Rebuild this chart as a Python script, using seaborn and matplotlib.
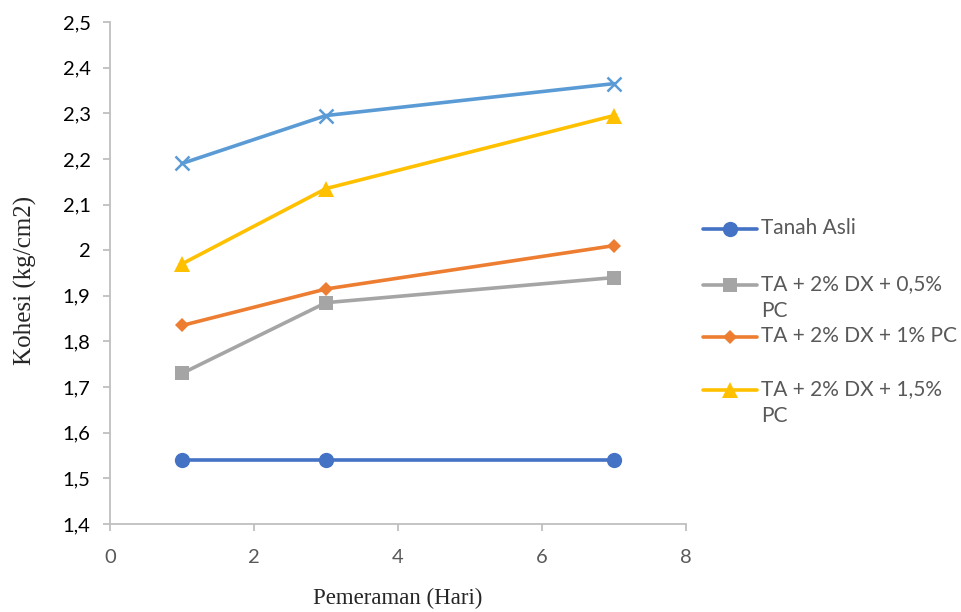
import numpy as np
import pandas as pd
import matplotlib
matplotlib.use("Agg")
import matplotlib.pyplot as plt
import seaborn as sns
from matplotlib.lines import Line2D
from matplotlib.ticker import FuncFormatter

# ── Data ──────────────────────────────────────────────────────────────────────
hari = [1, 3, 7]
tanah_asli = [1.54, 1.54, 1.54]
dx_05pc = [1.73, 1.885, 1.94]
dx_1pc = [1.835, 1.915, 2.01]
dx_15pc = [1.97, 2.135, 2.295]
extra = [2.19, 2.295, 2.365]   # series without legend entry

legend_labels = ["Tanah Asli", "TA + 2% DX + 0,5%\nPC", "TA + 2% DX + 1% PC",
                 "TA + 2% DX + 1,5%\nPC"]

series = [
    (tanah_asli, "#4472C4", "o", 11),
    (dx_05pc, "#A5A5A5", "s", 10),
    (dx_1pc, "#ED7D31", "D", 7),
    (dx_15pc, "#FFC000", "^", 11),
    (extra, "#5B9BD5", "x", 10),
]

sns.set_style("white")
plt.rcParams["font.family"] = ["Lato", "DejaVu Sans"]

W, H = 961, 612
fig = plt.figure(figsize=(W / 100, H / 100), dpi=100)
ax = fig.add_axes([110 / W, 88 / H, 576 / W, 502 / H])

for vals, col, mk, ms in series:
    df = pd.DataFrame({"x": hari, "y": vals})
    sns.lineplot(data=df, x="x", y="y", ax=ax, color=col, marker=mk,
                 markersize=ms, linewidth=2.6, markeredgecolor=col,
                 markeredgewidth=1.8 if mk == "x" else 0, legend=False)

ax.set_xlim(0, 8)
ax.set_ylim(1.4, 2.5)
ax.set_xticks(np.arange(0, 9, 2))
ax.set_yticks(np.round(np.arange(1.4, 2.51, 0.1), 1))
fmt = FuncFormatter(lambda v, p: (f"{v:.1f}".rstrip("0").rstrip(".")).replace(".", ","))
ax.yaxis.set_major_formatter(fmt)
ax.xaxis.set_major_formatter(FuncFormatter(lambda v, p: f"{v:.0f}"))

for s in ["top", "right"]:
    ax.spines[s].set_visible(False)
for s in ["left", "bottom"]:
    ax.spines[s].set_color("#BFBFBF")
    ax.spines[s].set_linewidth(1.3)
ax.tick_params(axis="both", which="major", length=5, width=1.3, color="#BFBFBF",
               direction="out", labelsize=14.5, left=True, bottom=True)
ax.tick_params(axis="y", labelcolor="black", pad=9)
ax.tick_params(axis="x", labelcolor="#595959", pad=13)

ax.set_xlabel("Pemeraman (Hari)", family="Liberation Serif", fontsize=16.5)
ax.set_ylabel("Kohesi (kg/cm2)", family="Liberation Serif", fontsize=18)
ax.xaxis.label.set_va("center")
ax.xaxis.set_label_coords(0.5, (524 - 598) / 502)
ax.yaxis.label.set_va("center")
ax.yaxis.set_label_coords((25 - 110) / 576, (524 - 280) / 502)

# ── Legend (Excel style: handle aligned with first line of label) ────────────
leg_y = [229, 285, 337, 390]
for (vals, col, mk, ms), lab, y in zip(series[:4], legend_labels, leg_y):
    yf = 1 - y / H
    fig.add_artist(Line2D([703 / W, 730 / W, 757 / W], [yf, yf, yf], color=col,
                          linewidth=2.6, marker=mk, markersize=ms, markevery=[1],
                          markeredgewidth=0, transform=fig.transFigure))
    fig.text(761 / W, yf + 11 / H, lab, color="#595959", fontsize=15, va="top",
             ha="left", linespacing=1.45, transform=fig.transFigure)

fig.savefig("out.png", dpi=100)
